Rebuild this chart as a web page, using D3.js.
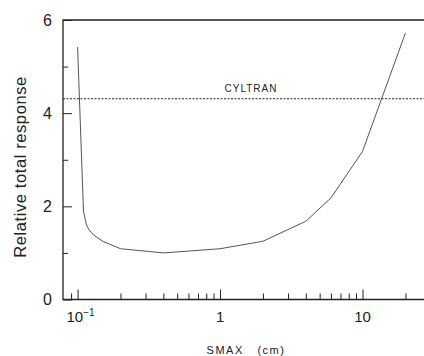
<!DOCTYPE html>
<html>
<head>
<meta charset="utf-8">
<script src="https://cdn.jsdelivr.net/npm/d3@7"></script>
<style>
  body { margin: 0; background: #fff; }
  svg { display: block; font-family: "Liberation Sans", Arial, sans-serif; }
</style>
</head>
<body>
<div id="chart"></div>
<script>
// 數據
const smax = [0.1, 0.11, 0.115, 0.12, 0.13, 0.15, 0.2, 0.4, 1, 2, 4, 6, 10, 20];
const response = [5.42, 1.9, 1.62, 1.5, 1.38, 1.25, 1.09, 1.0, 1.09, 1.25, 1.68, 2.18, 3.18, 5.72];
const cyltran = 4.31;
const xMajor = [0.1, 1, 10];
const xMajorLabels = ['10', '1', '10'];
const xMinor = [0.09, 0.2, 0.3, 0.4, 0.5, 0.6, 0.7, 0.8, 0.9, 2, 3, 4, 5, 6, 7, 8, 9, 20];
const yMajor = [0, 2, 4, 6];
const yMinor = [1, 3, 5];

const width = 424, height = 356;
const plotLeft = 63, plotRight = 424, plotTop = 20, plotBottom = 299.5;

const svg = d3.select('#chart').append('svg')
    .attr('width', width)
    .attr('height', height);

const x = d3.scaleLog().domain([0.079, 27]).range([plotLeft, plotRight]);
const y = d3.scaleLinear().domain([0, 6]).range([plotBottom, plotTop]);

const ink = '#222';

// 外框 (上、左、下)
svg.append('path')
    .attr('d', `M${plotRight},${plotTop}H${plotLeft}V${plotBottom}H${plotRight}`)
    .attr('fill', 'none')
    .attr('stroke', ink)
    .attr('stroke-width', 1.3);

// x 軸刻度 (向內)
const xMajAxis = d3.axisBottom(x).tickValues(xMajor).tickSize(-10).tickFormat('');
const xMinAxis = d3.axisBottom(x).tickValues(xMinor).tickSize(-6).tickFormat('');
[xMajAxis, xMinAxis].forEach(ax => {
    const g = svg.append('g').attr('transform', `translate(0,${plotBottom})`).call(ax);
    g.select('.domain').remove();
    g.selectAll('line').attr('stroke', ink).attr('stroke-width', 1);
});

// y 軸刻度
const yMajAxis = d3.axisLeft(y).tickValues(yMajor).tickSize(-9).tickFormat('');
const yMinAxis = d3.axisLeft(y).tickValues(yMinor).tickSize(-5).tickFormat('');
[yMajAxis, yMinAxis].forEach(ax => {
    const g = svg.append('g').attr('transform', `translate(${plotLeft},0)`).call(ax);
    g.select('.domain').remove();
    g.selectAll('line').attr('stroke', ink).attr('stroke-width', 1);
});

// y 刻度標籤
svg.append('g').selectAll('text')
    .data(yMajor)
    .enter().append('text')
    .attr('x', 52)
    .attr('y', d => y(d))
    .attr('dy', '0.35em')
    .attr('text-anchor', 'end')
    .style('font-size', '16px')
    .style('fill', ink)
    .text(d => d);

// x 刻度標籤
const xl = svg.append('g').selectAll('text')
    .data(xMajor)
    .enter().append('text')
    .attr('x', (d, i) => x(d) + (i === 0 ? 3 : 0))
    .attr('y', 322)
    .attr('text-anchor', 'middle')
    .style('font-size', '15px')
    .style('fill', ink)
    .text((d, i) => xMajorLabels[i]);
xl.filter((d, i) => i === 0)
    .append('tspan')
    .attr('dy', -6)
    .style('font-size', '10px')
    .text('\u22121');

// 軸標題
svg.append('text')
    .attr('transform', 'translate(26,167) rotate(-90)')
    .attr('text-anchor', 'middle')
    .style('font-size', '16.5px')
    .style('letter-spacing', '0.6px')
    .style('fill', ink)
    .text('Relative total response');

svg.append('text')
    .attr('x', 246)
    .attr('y', 354)
    .attr('text-anchor', 'middle')
    .style('font-size', '11px')
    .style('letter-spacing', '1.5px')
    .style('fill', ink)
    .attr('xml:space', 'preserve')
    .text('SMAX   (cm)');

// CYLTRAN 參考線
svg.append('line')
    .attr('x1', plotLeft).attr('x2', plotRight)
    .attr('y1', y(cyltran)).attr('y2', y(cyltran))
    .attr('stroke', ink)
    .attr('stroke-width', 1.2)
    .attr('stroke-dasharray', '2,1.5');

svg.append('text')
    .attr('x', 251)
    .attr('y', 92)
    .attr('text-anchor', 'middle')
    .style('font-size', '10px')
    .style('letter-spacing', '1px')
    .style('fill', ink)
    .text('CYLTRAN');

// 曲線
const line = d3.line()
    .x(d => x(d[0]))
    .y(d => y(d[1]));

svg.append('path')
    .datum(smax.map((s, i) => [s, response[i]]))
    .attr('d', line)
    .attr('fill', 'none')
    .attr('stroke', '#555')
    .attr('stroke-width', 1);
</script>
</body>
</html>
